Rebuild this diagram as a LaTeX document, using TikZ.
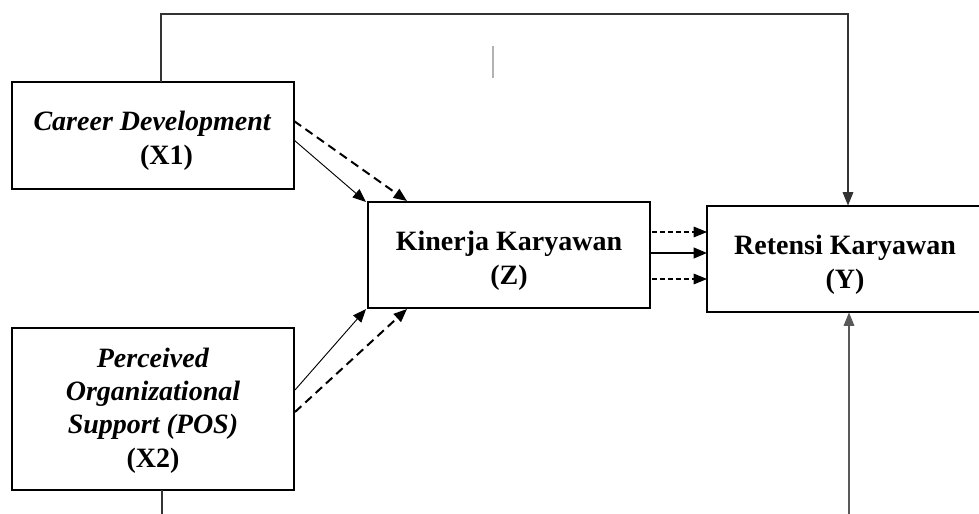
\documentclass[tikz,border=0pt]{standalone}
\usepackage{fontspec}
\setmainfont{Liberation Serif}
\usetikzlibrary{arrows.meta}
\begin{document}
\begin{tikzpicture}[x=0.75pt,y=-0.75pt,
  box/.style={draw, line width=1.5pt, rectangle, inner sep=0pt},
  txt/.style={inner sep=0pt, align=center, font=\fontsize{21}{25.5}\selectfont\bfseries},
  tip/.style={-{Triangle[length=10pt,width=8pt]}},
  solidarr/.style={line width=0.7pt, tip},
  dasharr/.style={line width=1.5pt, dash pattern=on 6.5pt off 4pt, tip},
  thindash/.style={line width=0.8pt, dash pattern=on 3.5pt off 2.5pt, tip},
  thickarr/.style={line width=1.5pt, tip},
  link/.style={line width=0.8pt, draw=black!80}
]
\useasboundingbox (0,0) rectangle (979,514);
\fill[white] (0,0) rectangle (979,514);

\node[box, minimum width=282*0.75pt, minimum height=107*0.75pt] (x1) at (152.5,135.5) {};
\node[txt] (x1t) at ([yshift=-4pt]x1.center) {\textit{Career Development}\\\hspace*{1em}(X1)};
\node[box, minimum width=282*0.75pt, minimum height=162*0.75pt] (x2) at (153,409) {};
\node[txt, font=\fontsize{21}{25}\selectfont\bfseries] (x2t) at ([yshift=-1pt]x2.center)
  {\textit{Perceived}\\\textit{Organizational}\\\textit{Support (POS)}\\(X2)};
\node[box, minimum width=282*0.75pt, minimum height=106*0.75pt] (z) at (509,255) {};
\node[txt] (zt) at ([yshift=-4pt]z.center) {Kinerja Karyawan\\(Z)};
\node[box, minimum width=276*0.75pt, minimum height=106*0.75pt] (y) at (845,259) {};
\node[txt] (yt) at ([yshift=-4pt]y.center) {Retensi Karyawan\\(Y)};

% coordinates for connector ends
\coordinate (x1a) at (294,140);
\coordinate (x1b) at (294,121);
\coordinate (za) at (366,202);
\coordinate (zb) at (407,201);
\coordinate (x2a) at (295,390);
\coordinate (x2b) at (295,412);
\coordinate (zc) at (366,309);
\coordinate (zd) at (407,309);

\draw[solidarr] (x1a) -- (za);
\draw[dasharr] (x1b) -- (zb);
\draw[solidarr] (x2a) -- (zc);
\draw[dasharr] (x2b) -- (zd);

\coordinate (z1) at (652,232);
\coordinate (z2) at (650,253);
\coordinate (z3) at (652,279);
\coordinate (y1) at (707,232);
\coordinate (y2) at (707,253);
\coordinate (y3) at (707,279);
\draw[thindash] (z1) -- (y1);
\draw[thickarr] (z2) -- (y2);
\draw[thindash] (z3) -- (y3);

% top link X1 -> Y
\coordinate (t1) at (161,81.5);
\coordinate (t2) at (161,14);
\coordinate (t3) at (848,14);
\coordinate (t4) at (848,205.5);
\draw[link, tip] (t1) -- (t2) -- (t3) -- (t4);

% bottom links
\coordinate (b1) at (162,490);
\coordinate (b2) at (162,514);
\draw[link] (b1) -- (b2);
\coordinate (b3) at (849,514);
\coordinate (b4) at (849,312.5);
\draw[link, draw=black!65, tip] (b3) -- (b4);

% stray tick
\coordinate (s1) at (493,46);
\coordinate (s2) at (493,78);
\draw[line width=1pt, draw=black!30] (s1) -- (s2);
\end{tikzpicture}
\end{document}
